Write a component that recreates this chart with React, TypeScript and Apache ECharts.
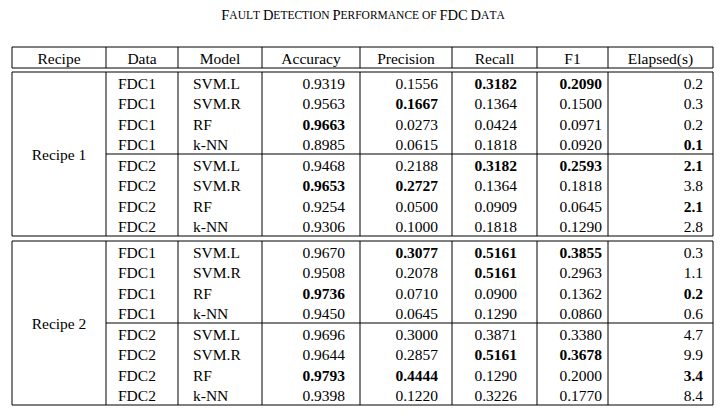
import { useEffect, useRef } from 'react';
import * as echarts from 'echarts';

const title = 'Fault Detection Performance of FDC Data';
const headers = ['Recipe', 'Data', 'Model', 'Accuracy', 'Precision', 'Recall', 'F1', 'Elapsed(s)'];
const recipes = ['Recipe 1', 'Recipe 2'];
const dataSets = ['FDC1', 'FDC1', 'FDC1', 'FDC1', 'FDC2', 'FDC2', 'FDC2', 'FDC2'];
const models = ['SVM.L', 'SVM.R', 'RF', 'k-NN', 'SVM.L', 'SVM.R', 'RF', 'k-NN'];

const accuracy = [
    ['0.9319', '0.9563', '0.9663', '0.8985', '0.9468', '0.9653', '0.9254', '0.9306'],
    ['0.9670', '0.9508', '0.9736', '0.9450', '0.9696', '0.9644', '0.9793', '0.9398'],
];
const precision = [
    ['0.1556', '0.1667', '0.0273', '0.0615', '0.2188', '0.2727', '0.0500', '0.1000'],
    ['0.3077', '0.2078', '0.0710', '0.0645', '0.3000', '0.2857', '0.4444', '0.1220'],
];
const recall = [
    ['0.3182', '0.1364', '0.0424', '0.1818', '0.3182', '0.1364', '0.0909', '0.1818'],
    ['0.5161', '0.5161', '0.0900', '0.1290', '0.3871', '0.5161', '0.1290', '0.3226'],
];
const f1 = [
    ['0.2090', '0.1500', '0.0971', '0.0920', '0.2593', '0.1818', '0.0645', '0.1290'],
    ['0.3855', '0.2963', '0.1362', '0.0860', '0.3380', '0.3678', '0.2000', '0.1770'],
];
const elapsed = [
    ['0.2', '0.3', '0.2', '0.1', '2.1', '3.8', '2.1', '2.8'],
    ['0.3', '1.1', '0.2', '0.6', '4.7', '9.9', '3.4', '8.4'],
];
// bold cells: "block,row,column" (column 0 = Accuracy ... 4 = Elapsed)
const boldCells = [
    '0,0,2', '0,0,3', '0,1,1', '0,2,0', '0,3,4', '0,4,2', '0,4,3', '0,4,4', '0,5,0', '0,5,1', '0,6,4',
    '1,0,1', '1,0,2', '1,0,3', '1,1,2', '1,2,0', '1,2,4', '1,5,2', '1,5,3', '1,6,0', '1,6,1', '1,6,4',
];

const FONT = 'Liberation Serif';
const colX = [12, 106, 178, 262, 360, 452, 537, 608, 713];
const numRight = [345, 438, 517, 602, 703];
const tableTop = 47;
const headBottom = 68;
const blockTops = [72, 241];
const rowH = 20.5;

// small caps: capitals in the source stay large, lower case becomes small capitals
function smallCaps(s: string) {
    return s.split('').map(ch => {
        if (ch === ' ') return '{s| }';
        return ch === ch.toUpperCase() ? `{b|${ch}}` : `{s|${ch.toUpperCase()}}`;
    }).join('');
}

export default function App() {
    const ref = useRef<HTMLDivElement>(null);

    useEffect(() => {
        if (!ref.current) return;
        const chart = echarts.init(ref.current, undefined, { renderer: 'svg' });
        const els: any[] = [];
        const line = (x1: number, y1: number, x2: number, y2: number) =>
            els.push({ type: 'line', shape: { x1, y1, x2, y2 }, style: { stroke: '#000', lineWidth: 1 } });
        const text = (t: string, x: number, y: number, align: string, bold = false) =>
            els.push({
                type: 'text', x, y,
                style: {
                    text: t, align, verticalAlign: 'middle', fill: '#000',
                    fontFamily: FONT, fontSize: 15.5, fontWeight: bold ? 'bold' : 'normal',
                },
            });

        els.push({
            type: 'text', x: 363, y: 15,
            style: {
                text: smallCaps(title), align: 'center', verticalAlign: 'middle',
                rich: {
                    b: { fontFamily: FONT, fontSize: 14.5, fill: '#000' },
                    s: { fontFamily: FONT, fontSize: 11.5, fill: '#000' },
                },
            },
        });

        // header box
        line(colX[0], tableTop, colX[8], tableTop);
        line(colX[0], headBottom, colX[8], headBottom);
        colX.forEach(x => line(x, tableTop, x, headBottom));
        headers.forEach((h, i) => text(h, (colX[i] + colX[i + 1]) / 2, (tableTop + headBottom) / 2 + 1, 'center'));

        recipes.forEach((r, b) => {
            const top = blockTops[b];
            const bottom = top + rowH * 8;
            line(colX[0], top, colX[8], top);
            line(colX[0], bottom, colX[8], bottom);
            line(colX[1], top + rowH * 4, colX[8], top + rowH * 4);
            colX.forEach(x => line(x, top, x, bottom));
            text(r, (colX[0] + colX[1]) / 2, (top + bottom) / 2, 'center');
            const cols = [accuracy[b], precision[b], recall[b], f1[b], elapsed[b]];
            for (let i = 0; i < 8; i++) {
                const y = top + rowH * (i + 0.5) + 1;
                text(dataSets[i], 118, y, 'left');
                text(models[i], 193, y, 'left');
                cols.forEach((c, j) => text(c[i], numRight[j], y, 'right', boldCells.includes(`${b},${i},${j}`)));
            }
        });

        chart.setOption({ animation: false, graphic: { elements: els } });
        return () => chart.dispose();
    }, []);

    return <div ref={ref} style={{ width: 726, height: 420, position: 'absolute', left: 0, top: 0, background: '#fff' }} />;
}
